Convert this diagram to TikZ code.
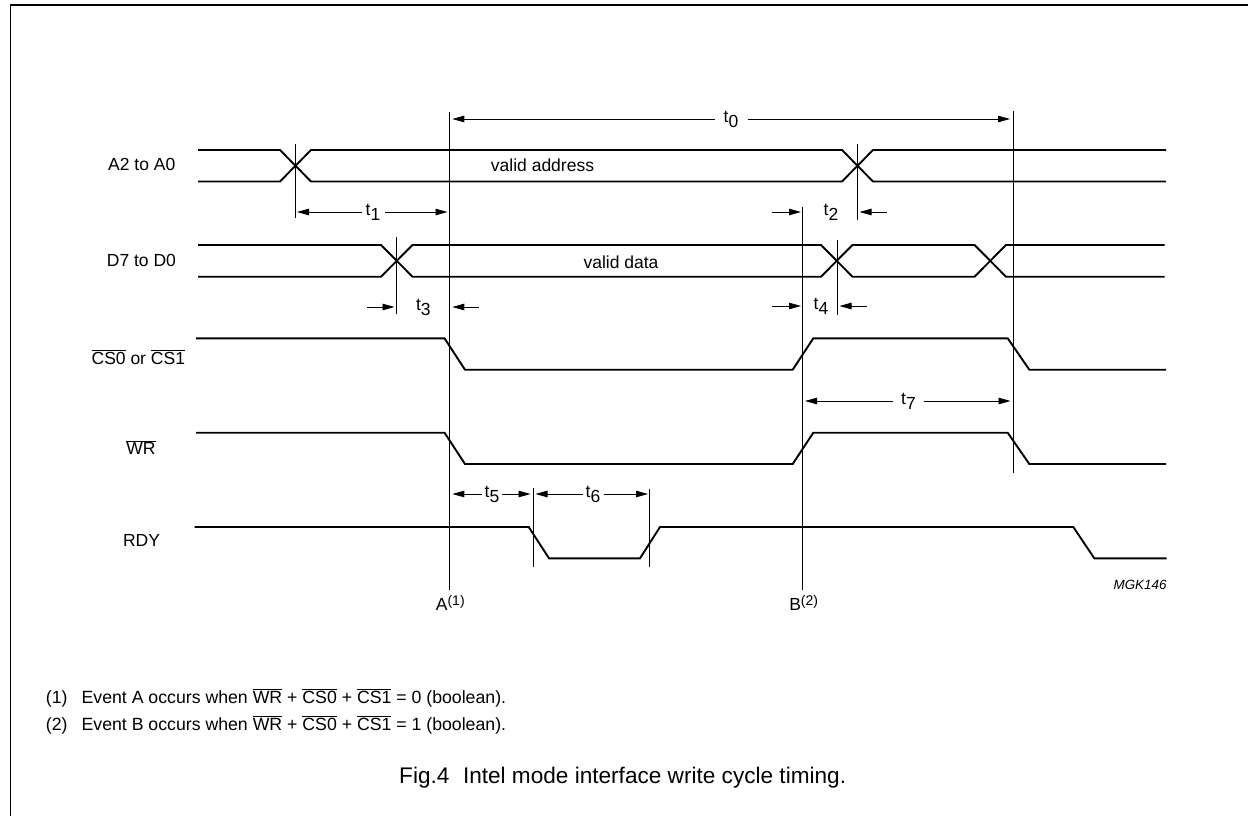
\documentclass[tikz,border=0pt]{standalone}
\usepackage{fontspec}
\setmainfont{Liberation Sans}
\usetikzlibrary{arrows.meta}

\newcommand{\negsig}[1]{\ensuremath{\overline{\mbox{#1}}}}
\newcommand{\tdelay}[1]{t\raisebox{-5pt}{#1}}
\newcommand{\supnote}[1]{\raisebox{5.5pt}{\fontsize{14}{14}\selectfont(#1)}}

\begin{document}
\begin{tikzpicture}
        [
          x=1pt, y=-1pt,
          signal/.style={line width=1.9pt, line join=miter},
          tick/.style={line width=0.9pt},
          dimline/.style={line width=0.8pt, -{Triangle[length=12pt,width=6.5pt]}},
          siglabel/.style={anchor=base, inner sep=0pt, font=\fontsize{17.5}{20}\selectfont},
          delay/.style={font=\fontsize{17.5}{20}\selectfont, inner ysep=0pt, inner xsep=4pt},
          note/.style={anchor=base west, font=\fontsize{17.7}{20}\selectfont, inner sep=0pt}
        ]
        \useasboundingbox (0,0) rectangle (1248,816);
        % frame
        \draw [line width=1.5pt] (10.5,816) -- (10.5,5) -- (1248,5);
        % A2 to A0
        \draw [signal] (198,150) -- (280,150) -- (311,181.5) -- (842,181.5) -- (873,150) -- (1166,150);
        \draw [signal] (198,181.5) -- (280,181.5) -- (311,150) -- (842,150) -- (873,181.5) -- (1166,181.5);
        % D7 to D0
        \draw [signal] (198,245) -- (381,245) -- (412.5,276.7) -- (821,276.7) -- (852.5,245) -- (974.5,245) -- (1006,276.7) -- (1164.5,276.7);
        \draw [signal] (198,276.7) -- (381,276.7) -- (412.5,245) -- (821,245) -- (852.5,276.7) -- (974.5,276.7) -- (1006,245) -- (1164.5,245);
        % CS0 or CS1 and WR
        \foreach \hi/\lo in {338.3/369.7,432.7/464} {
            \draw [signal] (196,\hi) -- (444.5,\hi) -- (465,\lo) -- (792.7,\lo) -- (813.3,\hi) -- (1007.7,\hi) -- (1029.3,\lo) -- (1166,\lo);
        }
        % RDY
        \draw [signal] (194.5,527) -- (528.7,527) -- (549,558.3) -- (640,558.3) -- (660,527) -- (1073.3,527) -- (1094.3,558.3) -- (1166.7,558.3);
        % event lines
        \foreach \x/\ya/\yb in {449.7/112/589.5,802.7/206.7/589.5,1013/111/472.5,295/144/218,396.3/237/314,857/144/220,837/240/315,533/488/567,649.3/489/567} {
            \draw [tick] (\x,\ya) -- (\x,\yb);
        }
        % delay ends
        \foreach \name/\x/\y in {t0l/452.3/119,t0r/1010/119,t1l/297/212,t1r/447.5/212,t2a/772/212,t2b/801/212,t2c/886.7/212,t2d/859.5/212,t3a/367/307,t3b/394.5/307,t3c/479/307,t3d/452.3/307,t4a/772/306,t4b/801/306,t4c/866.7/306,t4d/839.5/306,t5l/452.3/494,t5r/530.5/494,t6l/535.5/494,t6r/648/494,t7l/805/401,t7r/1010.5/401} {
            \coordinate (\name) at (\x,\y);
        }
        % delay labels
        \node [delay, inner xsep=9pt] (t0) at (731,119) {\tdelay{0}};
        \node [delay] (t1) at (373,212) {\tdelay{1}};
        \node [delay] (t2) at (831,212) {\tdelay{2}};
        \node [delay] (t3) at (423.4,307) {\tdelay{3}};
        \node [delay] (t4) at (821,306) {\tdelay{4}};
        \node [delay, inner xsep=2.5pt] (t5) at (492,494) {\tdelay{5}};
        \node [delay, inner xsep=3pt] (t6) at (593,494) {\tdelay{6}};
        \node [delay, inner xsep=8pt] (t7) at (908.5,401) {\tdelay{7}};
        % delay arrows
        \foreach \from/\to in {t0/t0l,t0/t0r,t1/t1l,t1/t1r,t2a/t2b,t2c/t2d,t3a/t3b,t3c/t3d,t4a/t4b,t4c/t4d,t5/t5l,t5/t5r,t6/t6l,t6/t6r,t7/t7l,t7/t7r} {
            \draw [dimline] (\from) -- (\to);
        }
        % labels
        \node [siglabel] (addr) at (141.7,170) {A2 to A0};
        \node [siglabel] (data) at (141.4,266.7) {D7 to D0};
        \node [siglabel] (cs) at (138.3,364.3) {\negsig{CS0} or \negsig{CS1}};
        \node [siglabel] (wr) at (141,454.3) {\negsig{WR}};
        \node [siglabel] (rdy) at (141.5,546) {RDY};
        \node [siglabel] (valaddr) at (542.5,171.7) {valid address};
        \node [siglabel] (valdata) at (621,268) {valid data};
        \node [siglabel] (evA) at (450.3,610.7) {A\supnote{1}};
        \node [siglabel] (evB) at (803.7,610.7) {B\supnote{2}};
        \node [anchor=base east, inner sep=0pt, font=\fontsize{13.4}{16}\selectfont\itshape] (code) at (1166.7,589) {MGK146};
        % notes
        \node [note] (n1) at (45.7,703) {(1)};
        \node [note] (n1t) at (81.4,703) {Event A occurs when \negsig{WR} + \negsig{CS0} + \negsig{CS1} = 0 (boolean).};
        \node [note] (n2) at (45.7,730) {(2)};
        \node [note] (n2t) at (81.4,730) {Event B occurs when \negsig{WR} + \negsig{CS0} + \negsig{CS1} = 1 (boolean).};
        \node [anchor=base west, inner sep=0pt, font=\fontsize{22.6}{26}\selectfont] (cap) at (399,783) {Fig.4\hspace{0.6em}Intel mode interface write cycle timing.};
\end{tikzpicture}
\end{document}
